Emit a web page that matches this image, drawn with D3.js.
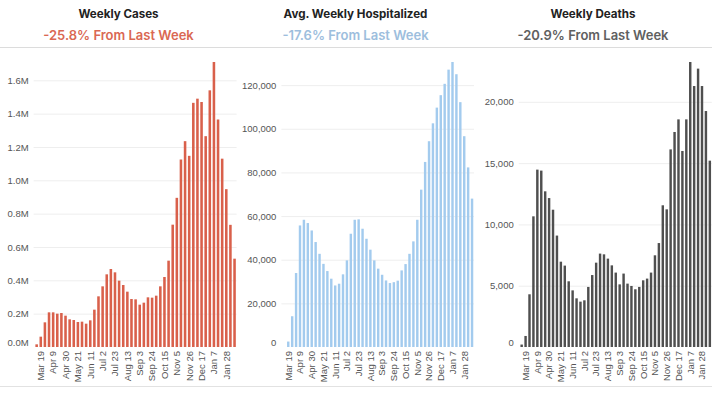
<!DOCTYPE html>
<html>
<head>
<meta charset="utf-8">
<script src="https://cdn.jsdelivr.net/npm/d3@7"></script>
<style>
  body { margin: 0; background: #fff; }
  svg { display: block; font-family: Inter, "Open Sans", sans-serif; }
  .title { font-size: 11.6px; font-weight: 700; fill: #222; }
  .sub { font-size: 13px; font-weight: 600; }
  .tick text { font-size: 9.5px; fill: #555; }
  .grid line { stroke: #eeeeee; }
</style>
</head>
<body>
<svg width="721" height="398"></svg>
<script>
// semaines (début le 12 mars)
const weeks = ["Mar 12","Mar 19","Mar 26","Apr 2","Apr 9","Apr 16","Apr 23","Apr 30","May 7","May 14",
  "May 21","May 28","Jun 4","Jun 11","Jun 18","Jun 25","Jul 2","Jul 9","Jul 16","Jul 23","Jul 30",
  "Aug 6","Aug 13","Aug 20","Aug 27","Sep 3","Sep 10","Sep 17","Sep 24","Oct 1","Oct 8","Oct 15",
  "Oct 22","Oct 29","Nov 5","Nov 12","Nov 19","Nov 26","Dec 3","Dec 10","Dec 17","Dec 24","Dec 31",
  "Jan 7","Jan 14","Jan 21","Jan 28","Feb 4","Feb 11"];
const tickLabels = ["Mar 19","Apr 9","Apr 30","May 21","Jun 11","Jul 2","Jul 23","Aug 13","Sep 3",
  "Sep 24","Oct 15","Nov 5","Nov 26","Dec 17","Jan 7","Jan 28"];

// cas hebdomadaires (millions)
const cases = [0.016,0.062,0.148,0.208,0.208,0.200,0.204,0.188,0.166,0.162,0.150,0.152,0.140,0.160,
  0.224,0.304,0.364,0.436,0.468,0.448,0.398,0.372,0.332,0.288,0.286,0.254,0.266,0.298,0.296,0.308,
  0.364,0.420,0.518,0.734,0.895,1.125,1.235,1.147,1.465,1.490,1.470,1.265,1.540,1.710,1.365,1.130,
  0.947,0.733,0.530];
// hospitalisés (moyenne hebdo) - pas de donnée la première semaine
const hosp = [null,2500,14100,33900,55700,58300,56800,53400,48100,42700,38100,34800,31300,28200,29000,
  33300,39700,51900,58300,58500,54200,49600,44600,39700,35900,33100,30500,29300,29700,30400,35100,
  38000,42700,48400,58300,72100,84800,94300,102500,109700,115400,120600,127100,130600,125000,112200,
  96600,82300,68000];
// décès hebdomadaires
const deaths = [200,900,4300,10660,14470,14390,12700,12150,11200,9090,6960,6640,5360,4620,3970,3700,
  3810,4900,5870,6880,7620,7560,7210,6660,6070,5110,5990,5170,4980,4710,4900,5440,5580,6070,7480,
  8480,11560,11230,16120,17540,18570,15990,18570,23250,21290,22710,21290,19250,15200];

const titles = ["Weekly Cases", "Avg. Weekly Hospitalized", "Weekly Deaths"];
const changes = ["-25.8% From Last Week", "-17.6% From Last Week", "-20.9% From Last Week"];

const svg = d3.select("svg");
const y0 = 347, y1 = 62;

// séparateurs horizontaux
svg.append("line").attr("x1", 0).attr("x2", 712).attr("y1", 47.5).attr("y2", 47.5)
  .attr("stroke", "#dcdcdc");
svg.append("line").attr("x1", 0).attr("x2", 712).attr("y1", 386.5).attr("y2", 386.5)
  .attr("stroke", "#e2e2e2");

const panels = [
  { values: cases, color: "#d9604b", subColor: "#da6853", cx: 118.5, range: [34.6, 236.6],
    ticks: d3.range(0, 1.61, 0.2), fmt: d => d.toFixed(1) + "M" },
  { values: hosp, color: "#a3cbee", subColor: "#9dbedd", cx: 355.5, range: [282.4, 474],
    ticks: d3.range(0, 120001, 20000), fmt: d3.format(",") },
  { values: deaths, color: "#4f4f4f", subColor: "#606060", cx: 593, range: [519.7, 711.8],
    ticks: d3.range(0, 20001, 5000), fmt: d3.format(",") }
];

panels.forEach((p, i) => {
  svg.append("text").attr("class", "title").attr("x", p.cx).attr("y", 17.5)
    .attr("text-anchor", "middle").text(titles[i]);
  svg.append("text").attr("class", "sub").attr("x", p.cx).attr("y", 39.5)
    .attr("text-anchor", "middle").attr("fill", p.subColor).text(changes[i]);

  const x = d3.scaleBand().domain(weeks).range(p.range).paddingInner(0.38).paddingOuter(0.19);
  const y = d3.scaleLinear().domain([0, d3.max(p.values)]).range([y0, y1]);

  // grille + étiquettes Y
  const ga = svg.append("g").attr("class", "grid")
    .attr("transform", `translate(${p.range[0] - 1},0)`)
    .call(d3.axisLeft(y).tickValues(p.ticks).tickFormat(p.fmt)
      .tickSize(-(p.range[1] - p.range[0] + 1)).tickPadding(5));
  ga.select(".domain").remove();
  ga.selectAll(".tick").filter(d => d === 0).select("text").attr("dy", "-0.15em");
  ga.selectAll(".tick").filter(d => d === 0).select("line").remove();

  // barres
  svg.append("g").selectAll("rect")
    .data(weeks.map((w, k) => ({ w, v: p.values[k] })).filter(d => d.v != null))
    .enter().append("rect")
    .attr("x", d => x(d.w))
    .attr("width", x.bandwidth())
    .attr("y", d => y(d.v))
    .attr("height", d => y0 - y(d.v))
    .attr("fill", p.color);

  // axe X
  const gx = svg.append("g").attr("transform", `translate(0,${y0})`)
    .call(d3.axisBottom(x).tickValues(tickLabels).tickSize(0).tickPadding(4));
  gx.select(".domain").remove();
  gx.selectAll("text")
    .attr("transform", "rotate(-90)")
    .attr("text-anchor", "end")
    .attr("x", -4).attr("y", 0).attr("dy", "0.35em");
});
</script>
</body>
</html>
